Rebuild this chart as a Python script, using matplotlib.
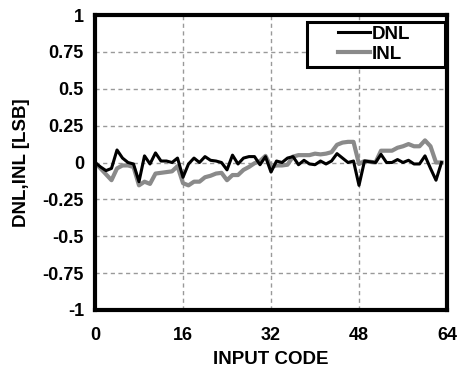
import numpy as np
import matplotlib
matplotlib.use('Agg')
import matplotlib.pyplot as plt
from matplotlib.patches import Rectangle

codes = np.arange(64)
dnl = [0.0, -0.03, -0.055, -0.04, 0.085, 0.03, 0.0, -0.01, -0.13, 0.045,
       -0.01, 0.065, 0.01, 0.01, 0.0, 0.03, -0.1, -0.01, 0.03, 0.0,
       0.04, 0.015, 0.01, 0.0, -0.05, 0.05, -0.01, 0.03, 0.04, 0.04,
       -0.015, 0.04, -0.065, 0.01, 0.0, 0.03, 0.04, -0.015, 0.015, -0.01,
       -0.015, 0.01, -0.01, 0.01, 0.06, 0.03, 0.0, 0.01, -0.155, 0.01,
       0.005, 0.0, 0.055, 0.0, 0.0, 0.02, 0.0, 0.015, -0.01, -0.01,
       0.045, -0.04, -0.12, 0.0]
inl = [0.0, -0.04, -0.08, -0.12, -0.04, -0.02, -0.02, -0.03, -0.155, -0.13,
       -0.145, -0.075, -0.07, -0.065, -0.06, -0.025, -0.14, -0.155, -0.13, -0.13,
       -0.1, -0.09, -0.075, -0.07, -0.12, -0.085, -0.085, -0.05, -0.03, -0.005,
       0.01, 0.045, -0.03, -0.02, -0.02, -0.015, 0.04, 0.05, 0.05, 0.05,
       0.06, 0.055, 0.06, 0.07, 0.12, 0.135, 0.14, 0.14, -0.01, 0.01,
       0.005, 0.0, 0.08, 0.08, 0.08, 0.1, 0.11, 0.125, 0.11, 0.11,
       0.15, 0.11, 0.0, 0.0]
xticks = [0, 16, 32, 48, 64]
yticks = [1, 0.75, 0.5, 0.25, 0, -0.25, -0.5, -0.75, -1]
ytick_labels = ['1', '0.75', '0.5', '0.25', '0', '-0.25', '-0.5', '-0.75', '-1']

plt.rcParams['font.family'] = ['Liberation Sans', 'DejaVu Sans']
plt.rcParams['font.weight'] = 'bold'

fig = plt.figure(figsize=(4.57, 3.71), dpi=100)
ax = fig.add_axes([95 / 457, 61 / 371, 352 / 457, 295 / 371])

ax.plot(codes, dnl, color='black', linewidth=2.2, label='DNL', zorder=3)
ax.plot(codes, inl, color='#8a8a8a', linewidth=3.0, label='INL', zorder=2)

ax.set_xlim(0, 64)
ax.set_ylim(-1, 1)
ax.set_xticks(xticks)
ax.set_yticks(yticks)
ax.set_yticklabels(ytick_labels)
ax.tick_params(length=0, labelsize=13)
ax.tick_params(axis='x', pad=12)
ax.tick_params(axis='y', pad=8)
for lbl in ax.get_xticklabels() + ax.get_yticklabels():
    lbl.set_fontweight('bold')
ax.grid(True, color='#999999', linestyle=(0, (3, 2.5)), linewidth=1.0)
for s in ax.spines.values():
    s.set_linewidth(3)
ax.set_xlabel('INPUT CODE', fontsize=13.5, fontweight='bold', labelpad=5)
ax.set_ylabel('DNL,INL [LSB]', fontsize=13.5, fontweight='bold', labelpad=9)

# legend box is wider than its content in the original
box = Rectangle((0.602, 0.824), 0.392, 0.152, transform=ax.transAxes,
                facecolor='white', edgecolor='black', linewidth=2.2, zorder=5)
ax.add_patch(box)
leg = ax.legend(loc='upper left', bbox_to_anchor=(0.653, 1.009), fontsize=13.5,
                frameon=False, handlelength=1.7, handletextpad=0.1,
                borderpad=0.2, labelspacing=0.15)
leg.set_zorder(6)
for t in leg.get_texts():
    t.set_fontweight('bold')

fig.savefig('out.png', dpi=100)
plt.close(fig)
